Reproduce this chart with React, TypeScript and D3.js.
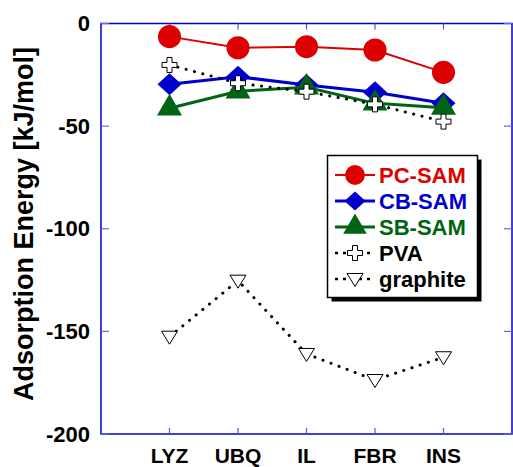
import React, { useEffect, useRef } from 'react';
import * as d3 from 'd3';

const categories = ['LYZ', 'UBQ', 'IL', 'FBR', 'INS'];
const pcSam = [-6.4, -11.8, -11.3, -12.9, -23.8];
const cbSam = [-29.6, -25.9, -30.0, -33.5, -38.9];
const sbSam = [-41.3, -33.0, -31.1, -38.9, -41.0];
const pva = [-20.2, -29.1, -33.2, -39.4, -47.8];
const graphite = [-152.6, -125.3, -161.0, -173.7, -162.6];
const yTicks = [0, -50, -100, -150, -200];

const FONT = '"Liberation Sans", Arial, sans-serif';
const BLUE = '#0000cc';

const App = () => {
  const svgRef = useRef<SVGSVGElement>(null);

  useEffect(() => {
    const svg = d3.select(svgRef.current);
    svg.selectAll('*').remove();

    const left = 101, right = 512, top = 23.5, bottom = 434;

    const x = d3.scaleLinear().domain([0, categories.length + 1]).range([left, right]);
    const y = d3.scaleLinear().domain([-200, 0]).range([bottom, top]);

    // frame
    svg.append('rect')
      .attr('x', left).attr('y', top)
      .attr('width', right - left).attr('height', bottom - top)
      .attr('fill', 'none').attr('stroke', BLUE).attr('stroke-width', 1.5);

    // ticks
    categories.forEach((c, i) => {
      const xp = x(i + 1);
      svg.append('line').attr('x1', xp).attr('x2', xp).attr('y1', bottom).attr('y2', bottom - 6)
        .attr('stroke', '#5555dd').attr('stroke-width', 1.2);
      svg.append('line').attr('x1', xp).attr('x2', xp).attr('y1', top).attr('y2', top + 6)
        .attr('stroke', '#5555dd').attr('stroke-width', 1.2);
      svg.append('text')
        .attr('x', xp).attr('y', 463)
        .attr('text-anchor', 'middle')
        .attr('font-family', FONT).attr('font-weight', 'bold').attr('font-size', 21)
        .text(c);
    });

    yTicks.forEach(t => {
      const yp = y(t);
      svg.append('line').attr('x1', left).attr('x2', left + 8).attr('y1', yp).attr('y2', yp)
        .attr('stroke', '#6666ee').attr('stroke-width', 1.2);
      svg.append('line').attr('x1', right).attr('x2', right - 8).attr('y1', yp).attr('y2', yp)
        .attr('stroke', '#6666ee').attr('stroke-width', 1.2);
      svg.append('text')
        .attr('x', 90).attr('y', yp + 7.5)
        .attr('text-anchor', 'end')
        .attr('font-family', FONT).attr('font-weight', 'bold').attr('font-size', 22)
        .text(t);
    });

    // y title
    svg.append('text')
      .attr('transform', 'translate(33,224) rotate(-90)')
      .attr('text-anchor', 'middle')
      .attr('font-family', FONT).attr('font-weight', 'bold').attr('font-size', 27)
      .text('Adsorption Energy [kJ/mol]');

    const line = d3.line<number>().x((_, i) => x(i + 1)).y(d => y(d));

    const downTri = 'M-8,-5.5L8,-5.5L0,7.5Z';
    const diamond = 'M0,-11L12,0L0,11L-12,0Z';
    const diamondSmall = 'M0,-9.5L10.5,0L0,9.5L-10.5,0Z';

    const series = [
      { name: 'PC-SAM', data: pcSam, color: '#dd0000', width: 2, dash: null, symbol: d3.symbol(d3.symbolCircle, 420)(), fill: '#dd0000', stroke: 'none' },
      { name: 'CB-SAM', data: cbSam, color: BLUE, width: 3, dash: null, symbol: diamond, fill: BLUE, stroke: 'none' },
      { name: 'SB-SAM', data: sbSam, color: '#006414', width: 3, dash: null, symbol: d3.symbol(d3.symbolTriangle, 270)(), fill: '#006414', stroke: 'none' },
      { name: 'PVA', data: pva, color: '#000', width: 3, dash: '0.1,8.5', symbol: d3.symbol(d3.symbolCross, 125)(), fill: '#fff', stroke: '#000' },
      { name: 'graphite', data: graphite, color: '#000', width: 3, dash: '0.1,8.5', symbol: downTri, fill: '#fff', stroke: '#000' },
    ];

    // each series: line then markers, in legend order
    const plot = svg.append('g');
    series.forEach(s => {
      plot.append('path')
        .attr('d', line(s.data))
        .attr('fill', 'none')
        .attr('stroke', s.color)
        .attr('stroke-width', s.width)
        .attr('stroke-linecap', 'round')
        .attr('stroke-dasharray', s.dash);
      plot.selectAll(null)
        .data(s.data)
        .enter()
        .append('path')
        .attr('transform', (d, i) => `translate(${x(i + 1)},${y(d)})`)
        .attr('d', s.symbol)
        .attr('fill', s.fill)
        .attr('stroke', s.stroke)
        .attr('stroke-width', 1);
    });

    // legend
    const lg = svg.append('g');
    lg.append('rect').attr('x', 331.5).attr('y', 159.5).attr('width', 150).attr('height', 142).attr('fill', '#000');
    lg.append('rect').attr('x', 327.5).attr('y', 155.5).attr('width', 150).attr('height', 142)
      .attr('fill', '#fff').attr('stroke', '#000').attr('stroke-width', 1.5);

    const legendSymbols = [
      d3.symbol(d3.symbolCircle, 310)(),
      diamondSmall,
      d3.symbol(d3.symbolTriangle, 240)(),
      d3.symbol(d3.symbolCross, 125)(),
      downTri,
    ];

    series.forEach((s, i) => {
      const ly = 175 + i * 26;
      lg.append('line')
        .attr('x1', 335).attr('x2', 375).attr('y1', ly).attr('y2', ly)
        .attr('stroke', s.color).attr('stroke-width', s.dash ? 2.5 : s.width)
        .attr('stroke-dasharray', s.dash ? '3,5' : null);
      lg.append('path')
        .attr('transform', `translate(355,${ly})`)
        .attr('d', legendSymbols[i])
        .attr('fill', s.fill).attr('stroke', s.stroke).attr('stroke-width', 1);
      lg.append('text')
        .attr('x', 379).attr('y', ly + 8)
        .attr('font-family', FONT).attr('font-weight', 'bold').attr('font-size', 22)
        .attr('fill', s.color)
        .text(s.name);
    });
  }, []);

  return (
    <svg ref={svgRef} width={513} height={467}
      style={{ position: 'absolute', left: 0, top: 0, background: '#fff' }} />
  );
};

export default App;
